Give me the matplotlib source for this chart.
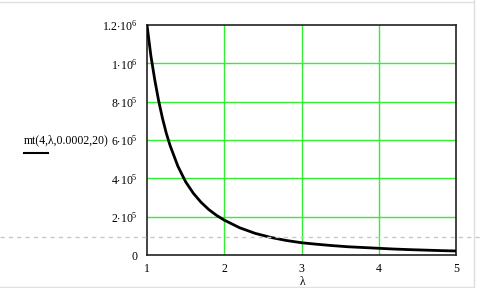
import matplotlib
matplotlib.use("Agg")
import matplotlib.pyplot as plt
from matplotlib.lines import Line2D

plt.rcParams["font.family"] = ["Liberation Serif", "DejaVu Serif"]
plt.rcParams["mathtext.fontset"] = "custom"
plt.rcParams["mathtext.rm"] = "Liberation Serif"
plt.rcParams["mathtext.it"] = "Liberation Serif:italic"

# values
lam = [1.0, 1.05, 1.1, 1.15, 1.2, 1.25, 1.3, 1.4, 1.5, 1.6, 1.7, 1.8, 1.9, 2.0,
       2.2, 2.4, 2.6, 2.8, 3.0, 3.2, 3.4, 3.6, 3.8, 4.0, 4.2, 4.4, 4.6, 4.8, 5.0]
mt = [1.2e6, 1.04e6, 9.15e5, 8.06e5, 7.14e5, 6.35e5, 5.70e5, 4.63e5, 3.82e5,
      3.22e5, 2.75e5, 2.37e5, 2.07e5, 1.82e5, 1.42e5, 1.13e5, 9.2e4, 7.6e4,
      6.4e4, 5.6e4, 4.9e4, 4.3e4, 3.9e4, 3.5e4, 3.1e4, 2.8e4, 2.55e4, 2.3e4, 2.1e4]

xticks = [1, 2, 3, 4, 5]
yticks = [0, 2e5, 4e5, 6e5, 8e5, 1e6, 1.2e6]
ylabels = ["0", r"$2{\cdot}10^{5}$", r"$4{\cdot}10^{5}$", r"$6{\cdot}10^{5}$",
           r"$8{\cdot}10^{5}$", r"$1{\cdot}10^{6}$", r"$1.2{\cdot}10^{6}$"]

fig = plt.figure(figsize=(4.8, 2.88), dpi=100)
ax = fig.add_axes([147/480, 33/288, 309/480, 230/288])

# grid lines (green) only at inner ticks
for x in xticks[1:-1]:
    ax.axvline(x, color="#33ee33", lw=1.0, zorder=1)
for y in yticks[1:-1]:
    ax.axhline(y, color="#33ee33", lw=1.0, zorder=1)

ax.plot(lam, mt, color="black", lw=2.0, zorder=3)

ax.set_xlim(1, 5)
ax.set_ylim(0, 1.2e6)
ax.set_xticks(xticks)
ax.set_xticklabels([str(v) for v in xticks])
ax.set_yticks(yticks)
ax.set_yticklabels(ylabels)
ax.tick_params(length=0, labelsize=8.5)
ax.tick_params(axis="y", pad=6.5)
ax.tick_params(axis="x", pad=6)
for s in ax.spines.values():
    s.set_color("#222222")
    s.set_linewidth(1.2)

# y label with legend line under it
fig.text(24/480, 1 - 140/288, "mt(4,λ,0.0002,20)", fontsize=8.5,
         ha="left", va="center")
fig.add_artist(Line2D([24/480, 48/480], [1 - 153/288, 1 - 153/288],
                      color="black", lw=1.5))
fig.text(303/480, 1 - 282/288, "λ", fontsize=8.5, ha="center", va="center")

# region frame and page-break line
fig.add_artist(Line2D([0, 1], [1 - 237/288, 1 - 237/288], color="#c8c8c8",
                      lw=1.0, ls=(0, (3, 3))))
fig.add_artist(Line2D([474/480, 474/480], [0, 1], color="#dddddd", lw=1.0))
fig.add_artist(Line2D([0, 474/480], [1 - 1.5/288, 1 - 1.5/288], color="#e0e0e0", lw=1.0))
fig.add_artist(Line2D([0, 474/480], [1.5/288, 1.5/288], color="#e0e0e0", lw=1.0))

fig.savefig("out.png", dpi=100)
